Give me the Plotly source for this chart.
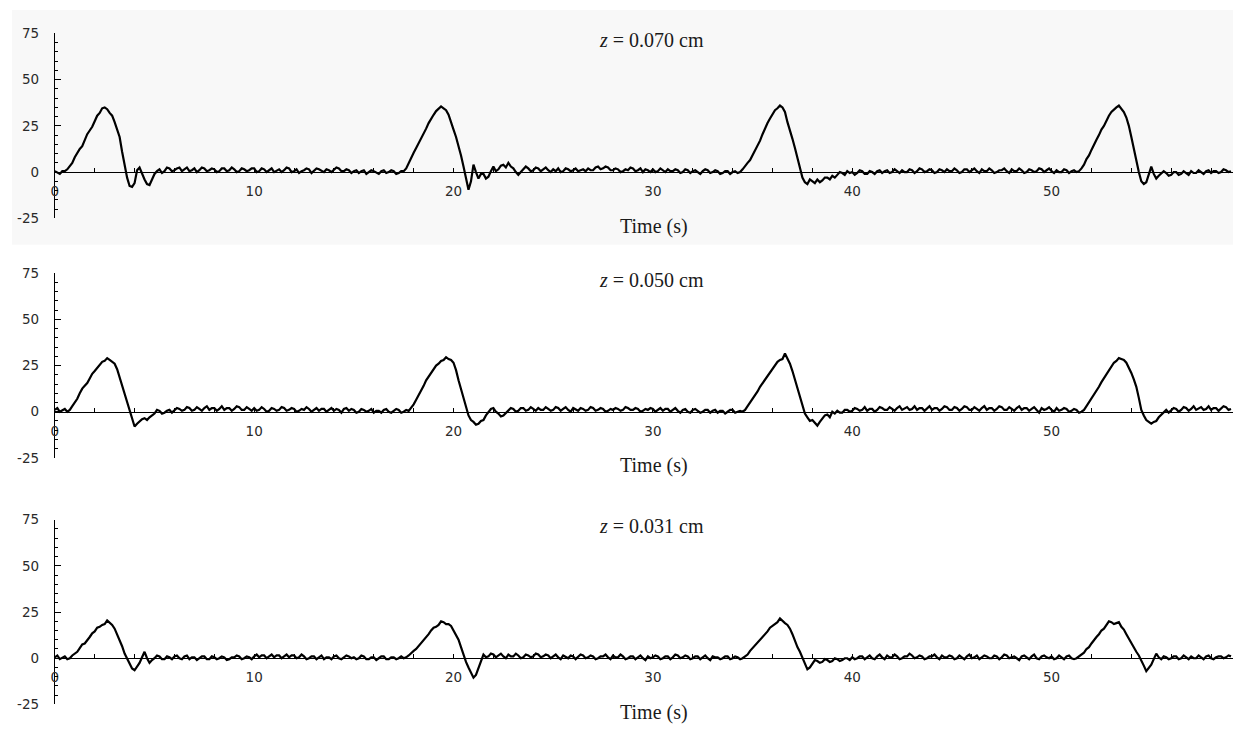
import plotly.graph_objects as go

# Sampling interval of the recorded traces (seconds)
T_STEP = 0.125

# Signal at z = 0.070 cm (one value every 0.125 s, 0 ... 59 s; one row = 5 s)
Z070 = [
    0.5, -0.5, -1.0, 0.5, 0.5, 1.5, 3.0, 5.0, 8.0, 10.5, 12.5, 14.0, 17.0, 20.5, 22.5, 24.5, 27.5, 30.5, 32.0, 34.5,
    35.0, 34.0, 32.0, 30.5, 27.0, 23.5, 19.0, 11.0, 3.0, -3.0, -7.5, -8.0, -6.0, 1.0, 2.5, -1.0, -4.0, -6.5, -7.0, -4.0,
    -1.0, 0.5, 1.5, -0.5, 0.5, 2.5, 2.0, 0.5, 1.0, 2.0, 2.5, 0.5, 1.5, 2.5, 0.5, 1.0, 2.0, 0.0, 1.0, 2.5,
    2.0, 0.5, 1.0, 2.0, 1.5, 0.0, 0.5, 2.0, 2.0, 0.5, 1.0, 2.5, 1.5, 0.0, 0.5, 2.0, 1.5, 0.5, 1.0, 2.0,
    2.0, 0.0, 0.5, 2.0, 1.5, 0.0, 1.0, 2.0, 0.0, 1.0, 1.5, 0.0, 1.0, 2.5, 2.0, 0.0, 0.5, 1.5, -0.5, 0.5,
    1.0, 2.0, 1.5, -0.5, 0.5, 2.0, 1.5, 0.5, 0.0, 1.5, 1.0, 0.0, 1.5, 2.5, 2.0, 0.5, 0.5, 1.5, 1.0, -0.5,
    0.5, 1.0, -0.5, 0.5, 1.0, -1.0, 0.0, 1.0, 0.5, -0.5, -1.0, 0.5, 1.0, -0.5, 0.0, 1.0, 0.5, -1.0, -0.5, 0.5,
    0.5, 2.0, 5.0, 8.0, 10.5, 13.0, 15.5, 18.5, 21.0, 23.5, 26.5, 29.0, 31.0, 33.0, 34.0, 35.5, 34.5, 33.5, 31.0, 27.5,
    23.0, 19.0, 14.5, 9.0, 3.0, -4.0, -9.5, -5.0, 4.0, 0.0, -3.5, -1.0, -1.0, -3.5, -2.5, 0.5, 3.0, 0.5, 1.5, 3.5,
    4.0, 2.5, 5.0, 3.0, 2.0, 0.0, -1.5, 0.0, 1.5, 3.0, 2.0, 0.5, 1.0, 2.5, 2.0, 0.5, 1.5, 2.5, 1.0, 0.0,
    1.5, 0.5, 2.0, 0.0, 0.5, 2.0, 1.5, 0.5, 1.0, 2.0, 0.5, 1.0, 1.5, 0.5, 2.0, 1.0, 1.0, 2.5, 3.0, 1.5,
    2.0, 3.0, 2.5, 1.0, 1.0, 2.0, 1.5, 0.0, 0.5, 1.5, 1.0, 2.5, 2.0, 0.5, 1.0, 2.0, 0.0, 1.5, 1.0, 0.0,
    1.5, 0.0, 0.5, 2.0, 1.0, 0.0, 1.5, 0.5, 0.5, 1.5, 1.0, -0.5, 0.0, 1.5, 1.0, -0.5, 0.5, 1.0, 0.0, -1.0,
    0.5, 1.5, 1.0, -0.5, 0.0, 1.0, 0.5, -1.0, -0.5, 0.5, 0.5, -1.0, 0.0, 0.5, -0.5, 0.0, 1.5, 3.5, 5.0, 6.5,
    9.0, 12.0, 14.5, 17.0, 20.5, 24.0, 26.5, 29.0, 31.5, 33.5, 34.5, 36.0, 35.0, 32.5, 27.0, 23.0, 18.0, 13.0, 8.0, 2.5,
    -3.0, -5.5, -6.5, -4.0, -5.0, -6.0, -4.0, -5.5, -4.5, -3.0, -3.0, -4.0, -2.0, -3.0, -1.5, 0.0, -0.5, -1.5, 0.5, -0.5,
    0.0, -1.5, -0.5, 1.0, 0.5, -1.0, -1.0, 0.5, 0.0, -1.0, 0.5, 1.0, -0.5, 0.5, 1.0, -0.5, 0.0, 1.5, 0.5, -0.5,
    1.0, 0.0, 0.0, 1.5, 1.0, -0.5, 0.5, 2.0, 1.5, 0.0, 0.5, 1.5, 1.0, -0.5, 0.0, 1.5, 1.0, 0.0, 1.5, 0.5,
    0.5, 2.0, 1.0, -0.5, 0.0, 1.5, 1.5, 0.0, 1.0, 2.0, 0.5, -0.5, 1.5, 0.5, 0.5, 2.0, 1.0, -0.5, 0.0, 1.0,
    1.0, 2.0, 0.5, -0.5, 1.5, 0.5, 0.5, 2.0, 1.0, -0.5, 0.0, 1.5, 1.0, 0.0, 0.5, 2.0, 1.5, 0.0, 1.0, 2.0,
    0.5, -0.5, 1.0, 0.0, 0.0, 1.5, 1.0, -0.5, 0.5, 1.0, 0.0, 0.5, 2.0, 4.0, 7.0, 9.0, 12.0, 15.0, 17.5, 20.0,
    23.0, 25.0, 28.0, 30.5, 32.5, 34.0, 35.0, 36.0, 34.0, 32.5, 29.5, 25.0, 19.0, 12.5, 6.0, 0.0, -5.0, -6.5, -5.5, -1.0,
    3.0, -1.0, -3.5, -2.0, -1.0, 0.5, -0.5, -2.0, -1.5, 0.0, 0.0, -1.5, -1.0, 0.5, -0.5, -1.5, 0.5, -0.5, -0.5, 1.0,
    0.0, -1.0, 0.5, 1.0, -0.5, 0.5, 0.5, -0.5, 0.0, 1.5, 1.0, 0.0, 0.5,
]

# Signal at z = 0.050 cm
Z050 = [
    1.0, 2.0, 0.0, 1.0, 1.5, 0.0, 1.0, 3.0, 5.0, 7.0, 10.0, 12.5, 14.0, 15.5, 18.0, 20.5, 22.0, 23.5, 25.5, 27.0,
    27.5, 29.0, 28.0, 27.0, 26.0, 23.0, 18.5, 15.0, 10.0, 5.5, 1.0, -4.0, -8.0, -6.5, -5.0, -4.0, -3.5, -4.5, -3.0, -2.0,
    -1.0, 1.0, 0.5, -1.0, -0.5, 0.5, 1.0, -0.5, 0.5, 2.0, 1.5, 0.5, 1.0, 2.5, 2.0, 0.5, 1.0, 2.5, 1.5, 0.5,
    2.0, 3.0, 1.0, 2.0, 2.0, 0.5, 1.5, 3.0, 1.0, 2.0, 2.0, 0.5, 1.5, 3.0, 2.5, 1.0, 1.0, 2.5, 1.5, 0.5,
    2.0, 0.5, 1.0, 2.5, 1.5, 0.0, 0.5, 2.0, 1.5, 0.5, 1.0, 2.5, 2.0, 0.5, 1.0, 2.0, 1.5, 0.0, 0.5, 1.5,
    1.0, 2.5, 1.5, 0.0, 1.0, 2.0, 0.5, 1.5, 1.5, 0.0, 1.0, 2.0, 0.5, 1.5, 1.0, -0.5, 1.5, 2.0, 0.5, 1.5,
    1.0, -0.5, 0.0, 1.5, 1.0, 0.0, 0.5, 1.5, -0.5, 0.5, 0.5, -0.5, 1.0, 1.5, 0.0, -0.5, 0.5, 1.5, 1.0, -0.5,
    0.0, 1.0, 0.5, 2.0, 4.0, 6.5, 9.0, 11.0, 14.0, 17.0, 19.0, 21.0, 23.0, 25.0, 26.0, 27.5, 28.0, 29.5, 28.5, 28.0,
    26.5, 22.5, 17.0, 12.5, 8.0, 3.0, -2.0, -4.5, -5.5, -7.0, -6.5, -5.0, -4.5, -2.0, 0.0, 1.5, 2.0, 0.0, -1.0, -2.5,
    -2.0, -0.5, 1.0, 2.0, 1.5, 0.0, 0.5, 2.0, 2.0, 0.5, 1.0, 2.5, 1.5, 0.5, 2.0, 1.0, 1.0, 2.5, 1.5, 0.5,
    1.0, 2.5, 2.0, 0.5, 1.5, 2.5, 1.0, 0.0, 2.0, 1.0, 0.5, 2.0, 1.5, 0.5, 1.0, 2.5, 2.0, 0.5, 1.0, 2.0,
    1.5, 0.0, 0.5, 1.5, 1.0, 2.0, 1.5, 0.5, 1.0, 2.5, 2.0, 1.0, 1.0, 2.0, 1.5, 0.0, 0.5, 1.5, 1.0, 2.0,
    1.5, 0.0, 1.0, 2.0, 0.5, 1.5, 1.5, 0.0, 1.0, 2.0, 0.5, -0.5, 1.0, 1.5, 0.0, -0.5, 1.0, 1.5, 0.5, -0.5,
    0.0, 1.0, 1.0, -0.5, 0.5, 1.0, -0.5, 0.5, 0.5, -1.0, 0.0, 1.0, 1.0, -0.5, 0.0, 0.5, 0.0, 1.0, 3.0, 5.0,
    7.0, 8.5, 11.0, 13.5, 15.5, 17.0, 19.5, 21.5, 23.5, 25.0, 27.0, 28.0, 28.5, 31.5, 29.0, 26.0, 22.0, 17.5, 12.5, 8.0,
    3.0, -1.0, -3.0, -5.0, -4.5, -6.0, -7.5, -5.5, -4.0, -2.0, -1.5, -3.0, 0.0, -1.0, 0.5, -0.5, -0.5, 1.0, 1.0, 0.0,
    0.5, 2.0, 1.5, 0.5, 1.0, 2.5, 0.5, 1.5, 1.5, 0.0, 1.0, 2.5, 2.0, 1.0, 1.0, 2.5, 1.5, 0.5, 2.0, 3.0,
    1.0, 2.0, 2.5, 1.0, 1.5, 3.0, 1.0, 2.0, 2.0, 0.5, 1.5, 3.0, 1.0, 2.0, 2.0, 0.5, 1.5, 3.0, 2.5, 1.0,
    1.0, 2.5, 2.0, 0.5, 1.5, 3.0, 2.5, 1.0, 1.0, 2.5, 1.5, 0.5, 2.0, 3.0, 1.0, 2.0, 2.0, 0.5, 1.5, 3.0,
    2.5, 1.0, 1.0, 2.5, 1.5, 0.5, 2.0, 3.0, 1.0, 2.0, 2.0, 0.5, 1.5, 2.5, 1.0, -0.5, 2.0, 1.0, 1.5, 2.5,
    1.0, 0.0, 2.0, 0.5, 1.0, 2.0, 1.5, 0.0, 0.5, 1.5, 1.0, -0.5, 0.0, 1.0, 3.0, 5.0, 7.0, 9.5, 11.5, 13.5,
    16.0, 18.0, 20.5, 22.0, 24.5, 26.5, 27.5, 29.0, 28.5, 28.0, 26.5, 24.0, 21.0, 17.5, 13.5, 7.5, 1.0, -2.0, -4.5, -5.5,
    -6.5, -5.5, -5.0, -3.0, -1.5, 0.0, 1.0, -0.5, 0.5, 2.0, 1.5, 0.0, 1.0, 2.5, 2.0, 0.5, 1.5, 3.0, 1.0, 2.0,
    2.5, 1.0, 1.5, 3.0, 1.0, 2.0, 2.0, 0.5, 1.5, 3.0, 2.5, 1.0, 1.5,
]

# Signal at z = 0.031 cm
Z031 = [
    0.5, 1.5, -0.5, 0.5, 1.0, -0.5, 0.0, 1.5, 2.5, 3.5, 5.5, 7.5, 8.0, 9.5, 11.5, 13.5, 14.5, 16.5, 17.0, 18.0,
    18.5, 20.5, 19.5, 18.0, 16.0, 13.0, 9.5, 6.5, 2.5, -0.5, -3.0, -5.5, -6.5, -4.5, -2.5, 0.5, 3.5, 0.0, -2.5, -1.0,
    0.0, 1.5, 1.0, -0.5, -0.5, 1.0, 0.5, -0.5, 1.0, 1.5, 0.0, -0.5, 1.0, 1.5, -0.5, 0.5, 0.5, -1.0, 0.0, 1.0,
    1.0, -0.5, -0.5, 1.0, 0.5, -0.5, 0.0, 1.0, 0.5, -1.0, -0.5, 0.5, 0.5, 1.5, 1.0, -0.5, 0.0, 1.0, 0.5, -0.5,
    1.0, 2.0, 0.5, 1.5, 1.5, 0.0, 1.0, 2.0, 0.5, 1.5, 1.5, 0.0, 1.0, 2.0, 0.5, 1.5, 1.5, 0.0, 0.5, 2.0,
    1.0, -0.5, 0.0, 1.0, 1.0, -0.5, 0.5, 1.5, -0.5, 0.5, 0.5, -0.5, 1.0, 1.5, 0.0, -0.5, 0.5, 1.5, 1.0, 0.0,
    0.5, -0.5, 0.0, 1.5, 1.0, -0.5, -0.5, 0.5, 0.5, -1.0, 0.0, 1.0, 1.0, -0.5, -0.5, 0.5, 0.5, -0.5, 0.0, 1.0,
    0.0, 0.5, 1.5, 3.0, 4.0, 5.0, 6.5, 8.5, 10.0, 11.0, 13.0, 15.0, 16.5, 17.0, 18.0, 20.0, 19.5, 18.5, 18.5, 17.5,
    15.0, 13.0, 10.0, 6.0, 1.5, -2.0, -5.0, -8.0, -10.5, -9.0, -5.5, -2.0, 2.0, 0.5, 1.0, 2.5, 2.0, 0.5, 1.5, 2.5,
    1.0, 0.0, 2.0, 1.0, 1.0, 2.5, 1.5, 0.0, 0.5, 2.0, 1.5, 0.5, 1.0, 2.5, 2.0, 0.5, 1.0, 2.0, 1.5, 0.0,
    1.0, 2.0, 0.5, -0.5, 1.5, 0.5, 0.0, 1.5, 1.0, -0.5, 0.5, 2.0, 1.5, 0.0, 0.5, 1.5, 1.0, -0.5, 0.0, 1.0,
    1.0, 2.0, 0.5, -0.5, 1.5, 0.5, 0.5, 2.0, 1.0, -0.5, 0.0, 1.0, 1.0, -0.5, 0.5, 1.5, 0.0, -1.0, 1.0, 0.0,
    0.5, 1.5, 1.0, -0.5, 0.0, 1.0, 1.0, -0.5, 0.5, 2.0, 1.5, 0.0, 0.5, 1.5, 1.0, -0.5, 0.0, 1.0, 1.0, -0.5,
    0.5, 1.5, 0.0, -1.0, 1.0, 0.5, 0.5, -0.5, 0.0, 1.0, 1.0, -0.5, 0.0, 1.0, 0.5, -0.5, 0.0, 1.0, 2.0, 4.0,
    5.5, 6.5, 8.0, 10.0, 11.0, 12.5, 14.5, 16.5, 17.5, 18.5, 19.5, 21.5, 20.5, 19.0, 18.0, 16.0, 13.0, 9.0, 6.0, 3.5,
    0.0, -3.5, -6.0, -5.0, -3.0, -1.0, -1.5, -2.5, -2.0, -0.5, -1.0, -2.0, -1.5, 0.0, -0.5, -1.5, -1.0, 0.0, 0.0, -1.0,
    0.5, -0.5, 0.0, 1.0, 1.0, -0.5, 0.5, 1.5, 0.0, -0.5, 1.0, 2.0, 0.5, -0.5, 1.5, 0.5, 0.5, 2.0, 1.0, -0.5,
    0.0, 1.0, 1.0, 2.5, 1.5, 0.0, 0.5, 1.5, 1.0, -0.5, 0.0, 1.0, 1.0, 2.0, 0.5, -0.5, 1.5, 0.5, 0.5, 1.5,
    1.0, -0.5, 0.0, 1.5, 0.5, -0.5, 1.0, 2.0, 0.0, 0.5, 1.5, -0.5, 0.5, 1.5, 1.0, 0.0, 0.0, 1.5, 1.0, -0.5,
    0.5, 2.0, 1.5, 0.0, 0.5, 1.0, 0.0, -1.0, 1.0, 1.5, 0.5, -0.5, 1.0, 2.0, 0.0, -0.5, 1.0, 1.5, 0.5, 0.0,
    1.0, -0.5, 0.0, 1.5, 0.5, -0.5, 1.0, 1.5, 0.0, -0.5, 0.0, 1.0, 1.5, 3.0, 5.0, 6.0, 8.0, 10.0, 11.5, 13.0,
    15.0, 16.0, 18.0, 20.0, 19.5, 18.5, 19.0, 19.5, 17.0, 15.5, 13.0, 10.5, 8.5, 6.0, 3.5, 1.5, -1.0, -4.0, -7.0, -5.5,
    -3.5, -0.5, 2.5, 0.5, -0.5, 1.0, 0.5, -0.5, 0.0, 1.0, 1.0, -0.5, 0.0, 1.5, 0.5, -0.5, 1.0, 0.0, 0.0, 1.5,
    0.5, -0.5, 1.0, 1.5, 0.0, -0.5, 0.5, 1.0, 1.0, 0.0, 0.5, 1.5, 1.0,
]

PANEL_LABELS = ["0.070", "0.050", "0.031"]
X_TICKS = [0, 10, 20, 30, 40, 50]
Y_TICKS = [-25, 0, 25, 50, 75]
Y_TICK_TEXT = ["-25", "0", "25", "50", "75"]
X_TITLE = "Time (s)"

time = [round(i * T_STEP, 3) for i in range(len(Z070))]
series = [Z070, Z050, Z031]

W, H = 1235, 733
X_LEFT, X_RIGHT = 51, 1233            # pixel columns of t = 0 and of the right edge
X_RANGE = [0, 59.1]
Y_RANGE = [-25, 75]
# pixel rows of y = 75 and y = -25 for each panel
PANEL_ROWS = [(26, 215), (271, 460), (523, 712)]

TICK_FONT = dict(family="DejaVu Sans", size=13.5, color="#2a2a2a")
TEXT_FONT = dict(family="Liberation Serif", size=20, color="#1a1a1a")

fig = go.Figure()
annotations = []

for i, (label, ys, (top, bot)) in enumerate(zip(PANEL_LABELS, series, PANEL_ROWS), start=1):
    sfx = "" if i == 1 else str(i)
    y_dom = [1 - bot / H, 1 - top / H]
    zero_px = top + (bot - top) * (Y_RANGE[1] - 0) / (Y_RANGE[1] - Y_RANGE[0])

    fig.add_trace(go.Scatter(
        x=time[:len(ys)], y=ys, mode="lines",
        line=dict(color="black", width=2.2),
        xaxis="x" + sfx, yaxis="y" + sfx,
        showlegend=False, hoverinfo="skip",
    ))

    fig.update_layout(**{
        "xaxis" + sfx: dict(
            domain=[X_LEFT / W, X_RIGHT / W], range=X_RANGE,
            anchor="free", position=1 - zero_px / H,
            showline=True, linecolor="black", linewidth=1,
            showgrid=False, zeroline=False,
            tickmode="array", tickvals=X_TICKS,
            ticks="inside", ticklen=4, tickcolor="black", tickwidth=1,
            minor=dict(tickmode="linear", tick0=0, dtick=2, ticks="inside",
                       ticklen=4, tickcolor="black", tickwidth=1, showgrid=False),
            tickfont=TICK_FONT, ticklabelstandoff=7,
            fixedrange=True,
        ),
        "yaxis" + sfx: dict(
            domain=y_dom, range=Y_RANGE, anchor="x" + sfx,
            showline=True, linecolor="black", linewidth=1,
            showgrid=False, zeroline=False,
            tickmode="array", tickvals=Y_TICKS, ticktext=Y_TICK_TEXT,
            ticks="inside", ticklen=6, tickcolor="black", tickwidth=1,
            minor=dict(tickmode="linear", tick0=0, dtick=5, ticks="inside",
                       ticklen=3, tickcolor="black", tickwidth=1, showgrid=False),
            tickfont=TICK_FONT, ticklabelstandoff=12,
            fixedrange=True,
        ),
    })

    annotations.append(dict(
        text=f"<i>z</i> = {label} cm", xref="paper", yref="paper",
        x=650 / W, y=1 - (top + 7) / H, xanchor="center", yanchor="middle",
        showarrow=False, font=TEXT_FONT,
    ))
    annotations.append(dict(
        text=X_TITLE, xref="paper", yref="paper",
        x=652 / W, y=1 - (bot + 8) / H, xanchor="center", yanchor="middle",
        showarrow=False, font=TEXT_FONT,
    ))

fig.update_layout(
    width=W, height=H,
    margin=dict(l=0, r=0, t=0, b=0),
    paper_bgcolor="white", plot_bgcolor="rgba(0,0,0,0)",
    hovermode=False,
    annotations=annotations,
    shapes=[dict(
        type="rect", xref="paper", yref="paper", layer="below",
        x0=8 / W, x1=1233 / W, y0=1 - 242 / H, y1=1 - 2 / H,
        fillcolor="#f8f8f8", line=dict(width=0),
    )],
)

fig.write_html("out.html", config={"displayModeBar": False})
